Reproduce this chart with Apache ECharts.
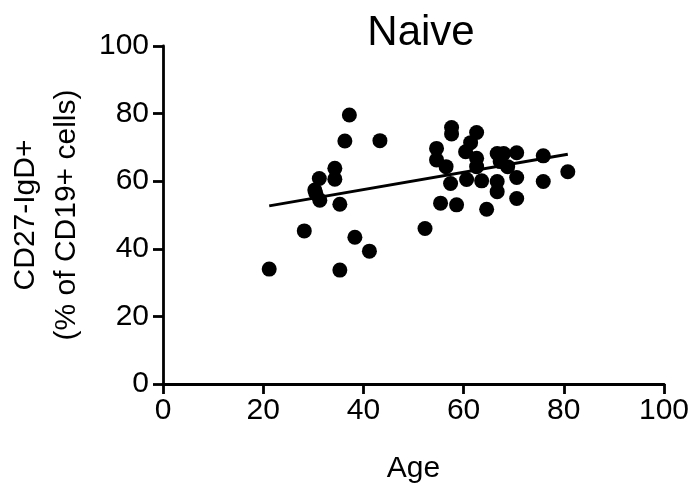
<!DOCTYPE html>
<html>
<head>
<meta charset="utf-8">
<script src="https://cdn.jsdelivr.net/npm/echarts@6/dist/echarts.min.js"></script>
<style>
  html, body { margin: 0; padding: 0; background: #fff; }
  #naive { width: 699px; height: 489px; }
</style>
</head>
<body>
<div id="naive"></div>
<script>
  // ages and CD27-IgD+ percentages
  var ages = [21.2, 28.2, 30.3, 30.5, 31.2, 31.3, 34.3, 34.3, 35.3, 35.3, 36.3, 37.2, 38.3, 41.2, 43.3,
    52.3, 54.6, 54.6, 55.4, 56.5, 57.4, 57.6, 57.6, 58.6, 60.4, 60.6, 61.4, 62.6, 62.6, 62.6, 63.6,
    64.6, 66.7, 66.7, 66.7, 68.0, 67.3, 68.8, 70.6, 70.6, 70.6, 75.9, 75.9, 80.8];
  var pct = [34.0, 45.3, 57.4, 56.4, 60.8, 54.4, 63.8, 60.6, 53.2, 33.7, 71.9, 79.6, 43.4, 39.3, 72.0,
    46.0, 69.7, 66.3, 53.5, 64.3, 59.3, 75.9, 74.0, 53.0, 68.7, 60.5, 71.4, 74.4, 66.8, 64.3, 60.1,
    51.7, 68.2, 59.9, 56.9, 68.2, 65.8, 64.3, 68.4, 61.1, 54.9, 67.5, 59.9, 62.8];
  // fitted line end points
  var fitX = [21.2, 80.8];
  var fitY = [52.7, 68.0];

  var points = [];
  for (var i = 0; i < ages.length; i++) {
    points.push([ages[i], pct[i]]);
  }
  var fitLine = [];
  for (var j = 0; j < fitX.length; j++) {
    fitLine.push([fitX[j], fitY[j]]);
  }

  var myChart = echarts.init(document.getElementById('naive'));
  var font = 'Liberation Sans, Arial, sans-serif';
  var options = {
    animation: false,
    title: {
      text: 'Naive',
      left: 416,
      top: 7,
      textAlign: 'center',
      textStyle: { fontFamily: font, fontSize: 42, fontWeight: 'normal', color: '#000' }
    },
    grid: { left: 163, right: 35, top: 46, bottom: 105, containLabel: false, outerBoundsMode: 'none' },
    xAxis: {
      type: 'value',
      min: 0,
      max: 100,
      interval: 20,
      name: 'Age',
      nameLocation: 'middle',
      nameGap: 70,
      nameTextStyle: { fontFamily: font, fontSize: 30, color: '#000' },
      axisLine: { show: true, onZero: false, lineStyle: { color: '#000', width: 2.8 } },
      axisTick: { show: true, length: 10, lineStyle: { color: '#000', width: 2.8 } },
      axisLabel: { fontFamily: font, fontSize: 30, color: '#000', margin: 12 },
      splitLine: { show: false }
    },
    yAxis: {
      type: 'value',
      min: 0,
      max: 100,
      interval: 20,
      name: 'CD27-IgD+\n(% of CD19+ cells)',
      nameLocation: 'middle',
      nameGap: 76,
      nameTextStyle: { fontFamily: font, fontSize: 30, color: '#000', lineHeight: 41 },
      axisLine: { show: true, onZero: false, lineStyle: { color: '#000', width: 2.8 } },
      axisTick: { show: true, length: 10, lineStyle: { color: '#000', width: 2.8 } },
      axisLabel: { fontFamily: font, fontSize: 30, color: '#000', margin: 14 },
      splitLine: { show: false }
    },
    series: [{
      name: 'samples',
      type: 'scatter',
      symbol: 'circle',
      symbolSize: 15,
      itemStyle: { color: '#000', opacity: 1 },
      data: points
    }, {
      name: 'fit',
      type: 'line',
      symbol: 'none',
      lineStyle: { color: '#000', width: 3 },
      data: fitLine
    }]
  };
  myChart.setOption(options, true);
</script>
</body>
</html>
